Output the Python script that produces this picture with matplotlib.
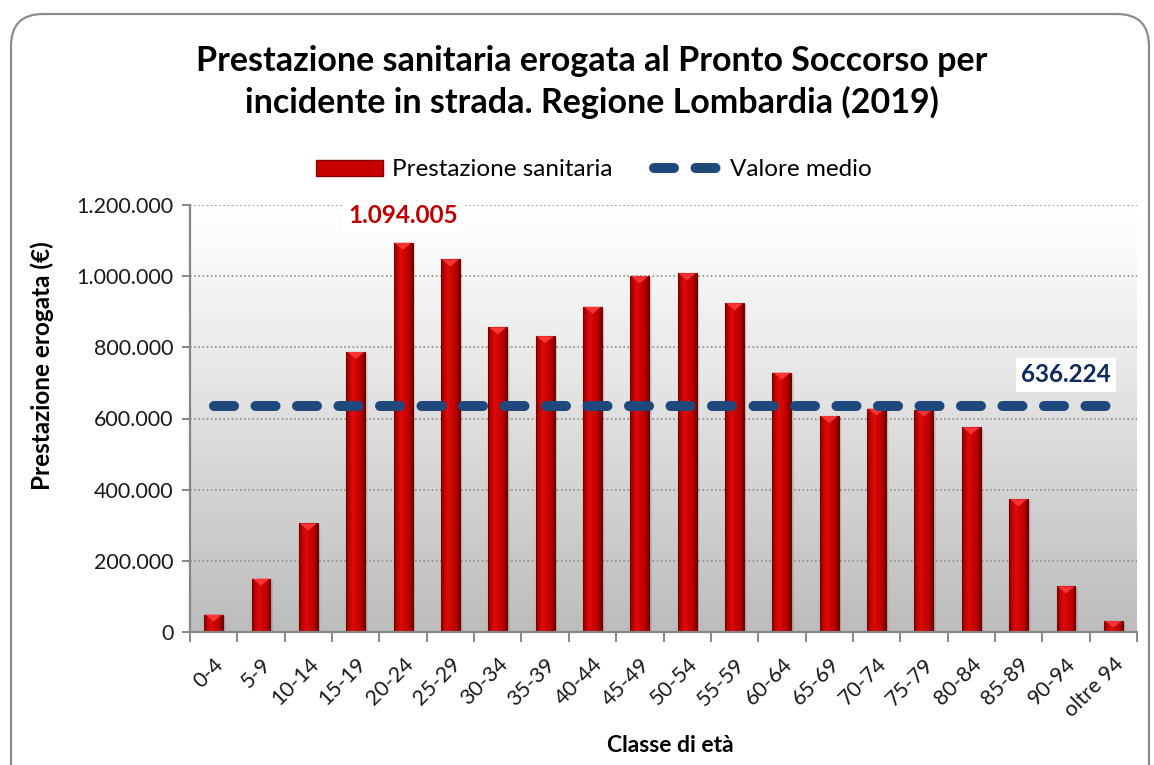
import matplotlib
matplotlib.use("Agg")
import matplotlib.pyplot as plt
import numpy as np
from matplotlib.patches import FancyBboxPatch, Patch, Polygon
from matplotlib.lines import Line2D
from matplotlib.colors import LinearSegmentedColormap
from matplotlib.ticker import FuncFormatter, FixedLocator

# ---- data ----
categories = ["0-4", "5-9", "10-14", "15-19", "20-24", "25-29", "30-34", "35-39",
              "40-44", "45-49", "50-54", "55-59", "60-64", "65-69", "70-74", "75-79",
              "80-84", "85-89", "90-94", "oltre 94"]
values = [49000, 150000, 305000, 787000, 1094005, 1047000, 856000, 831000,
          914000, 1000000, 1008000, 924000, 729000, 607000, 628000, 625000,
          575000, 373000, 128000, 31000]
mean_value = 636224
y_ticks = [0, 200000, 400000, 600000, 800000, 1000000, 1200000]

title = "Prestazione sanitaria erogata al Pronto Soccorso per\nincidente in strada. Regione Lombardia (2019)"
series_label = "Prestazione sanitaria"
mean_label = "Valore medio"
x_label = "Classe di età"
y_label = "Prestazione erogata (€)"

plt.rcParams['font.family'] = ['Lato', 'DejaVu Sans']

W, H = 1154, 765
fig = plt.figure(figsize=(W / 100, H / 100), dpi=100)

# outer rounded frame
bg = fig.add_axes([0, 0, 1, 1], zorder=-10)
bg.set_xlim(0, W)
bg.set_ylim(H, 0)
bg.axis("off")
bg.add_patch(FancyBboxPatch((11, 14), 1138, 820, boxstyle="round,pad=0,rounding_size=32",
                            ec="#8c8c8c", fc="white", lw=1.6))

L, R, T, B = 190, 1137, 205, 632
ax = fig.add_axes([L / W, 1 - B / H, (R - L) / W, (B - T) / H])
ax.patch.set_alpha(0)

n = len(categories)
x = np.arange(n)
ymax = y_ticks[-1]

# background gradient (gray at bottom -> white at top)
grad = np.linspace(0, 1, 256).reshape(-1, 1)
bg_cmap = LinearSegmentedColormap.from_list("bgc", [(0, "#bcbcbc"), (0.9, "#fbfbfb"), (1, "#ffffff")])
ax.imshow(grad, extent=(-0.5, n - 0.5, 0, ymax), aspect="auto", cmap=bg_cmap,
          origin="lower", zorder=0, interpolation="bilinear")

# grid
for t in y_ticks[1:]:
    ax.axhline(t, color="#8f8f8f", lw=1.2, ls=(0, (1, 1.5)), zorder=1)

# bars
bw = 0.4
bar_cmap = LinearSegmentedColormap.from_list(
    "barc", [(0, "#700000"), (0.12, "#b80000"), (0.35, "#da0c0c"),
             (0.65, "#cc0000"), (0.88, "#a40000"), (1, "#6c0000")])
hgrad = np.linspace(0, 1, 64).reshape(1, -1)
bars = ax.bar(x, values, width=bw, color="#c00000", edgecolor="#7a0000", lw=0.8, zorder=3)
px_per_val = (B - T) / ymax
for b, v in zip(bars, values):
    x0 = b.get_x()
    im = ax.imshow(hgrad, extent=(x0, x0 + bw, 0, v), aspect="auto", cmap=bar_cmap,
                   zorder=3.5, interpolation="bilinear")
    im.set_clip_path(b)
    h = 7 / px_per_val
    xc = x0 + bw / 2
    ax.add_patch(Polygon([(x0 + 0.02, v), (x0 + bw - 0.02, v), (xc, v - min(h, v * 0.6))],
                         closed=True, fc="#ff3a3a", ec="none", zorder=4, alpha=0.9))
    ax.add_patch(Polygon([(x0 + bw, 0), (x0 + bw + 0.05, 0), (x0 + bw + 0.05, v - h * 0.3),
                          (x0 + bw, v)], closed=True, fc="#000000", ec="none",
                         alpha=0.12, zorder=2.5))

# mean line
mean_col = "#1f497d"
ax.plot(x, [mean_value] * n, color=mean_col, lw=7.2, dashes=(2.0, 2.15),
        dash_capstyle="round", zorder=5)

# annotations
imax = int(np.argmax(values))
ax.annotate(f"{values[imax]:,}".replace(",", "."), xy=(x[imax], values[imax]),
            xytext=(0, 27), textcoords="offset pixels", ha="center", va="center",
            fontsize=17.5, fontweight="bold", color="#c00000", zorder=6,
            bbox=dict(fc="white", ec="none", pad=4))
ax.annotate(f"{mean_value:,}".replace(",", "."), xy=(18, mean_value),
            xytext=(0, 31), textcoords="offset pixels", ha="center", va="center",
            fontsize=17.5, fontweight="bold", color="#0f2a5c", zorder=6,
            bbox=dict(fc="white", ec="none", pad=4))

ax.set_xlim(-0.5, n - 0.5)
ax.set_ylim(0, ymax)

for s in ["top", "right"]:
    ax.spines[s].set_visible(False)
for s in ["left", "bottom"]:
    ax.spines[s].set_color("#868686")
    ax.spines[s].set_linewidth(1.6)
    ax.spines[s].set_zorder(6)

ax.set_yticks(y_ticks)
ax.yaxis.set_major_formatter(FuncFormatter(lambda v, p: f"{int(v):,}".replace(",", ".")))
ax.tick_params(axis="y", length=6, width=1.4, color="#868686", labelsize=15.5,
               labelcolor="#1a1a1a", pad=6)

ax.set_xticks(x)
ax.set_xticklabels(categories, rotation=45, ha="right", rotation_mode="anchor")
ax.tick_params(axis="x", which="major", length=0, labelsize=15.5, labelcolor="#1a1a1a", pad=16)
ax.xaxis.set_minor_locator(FixedLocator(np.arange(-0.5, n, 1.0)))
ax.tick_params(axis="x", which="minor", length=7, width=1.4, color="#868686")

ax.set_xlabel(x_label, fontsize=16.5, fontweight="bold")
ax.set_ylabel(y_label, fontsize=17.5, fontweight="bold")
ax.xaxis.set_label_coords((670 - L) / (R - L), -(745 - B) / (B - T))
ax.yaxis.set_label_coords(-(190 - 42) / (R - L), (B - 366) / (B - T))
ax.xaxis.label.set_va("center")
ax.yaxis.label.set_va("center")

fig.text(592 / W, 1 - 82 / H, title, ha="center", va="center", fontsize=24.5,
         fontweight="bold", color="#000000", linespacing=1.3)

handles = [Patch(fc="#c80000", ec="#8a0000", lw=1),
           Line2D([0], [0], color=mean_col, lw=7.2, dashes=(2.0, 2.15), dash_capstyle="round")]
fig.legend(handles, [series_label, mean_label], loc="center",
           bbox_to_anchor=(594 / W, 1 - 170 / H), ncol=2, frameon=False, fontsize=17.5,
           handlelength=2.75, handleheight=0.6, columnspacing=1.7, handletextpad=0.37)

fig.savefig("out.png", dpi=100)
